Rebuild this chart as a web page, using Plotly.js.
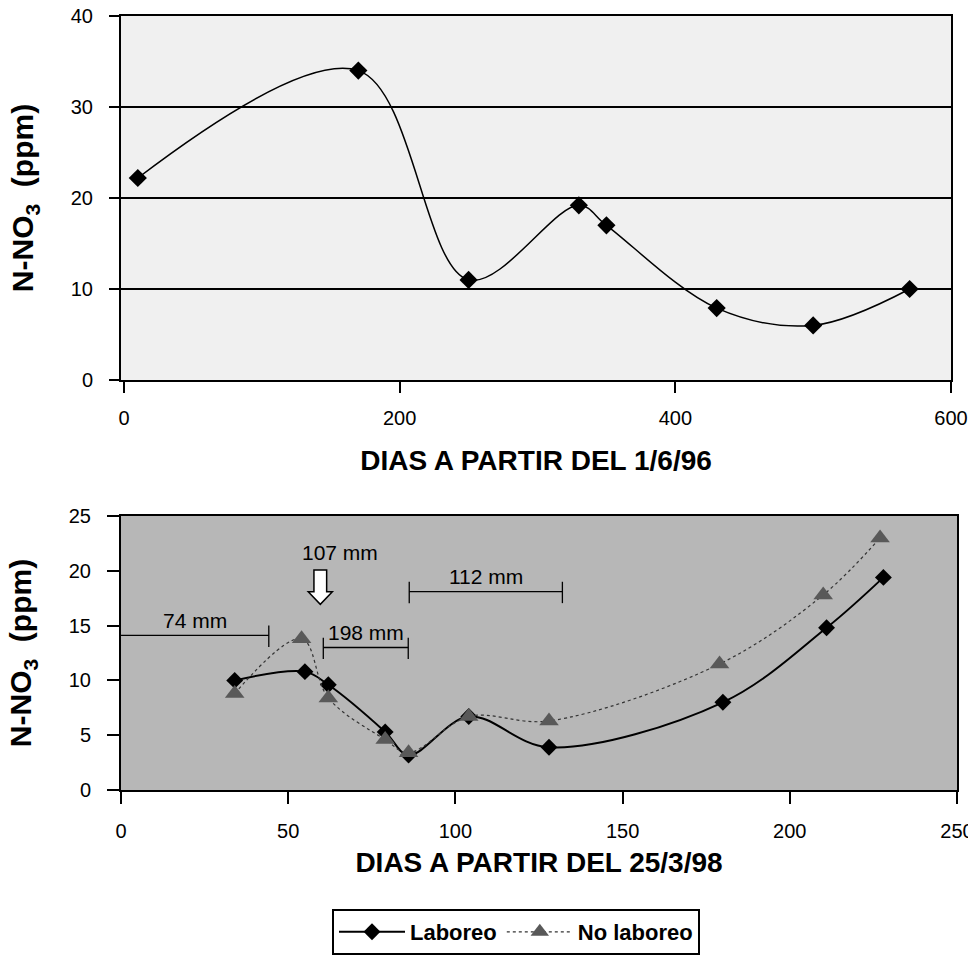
<!DOCTYPE html>
<html>
<head>
<meta charset="utf-8">
<script src="https://cdn.plot.ly/plotly-3.0.1.min.js"></script>
<style>html,body{margin:0;padding:0;background:#fff;}#chart{width:968px;height:956px;}</style>
</head>
<body>
<div id="chart"></div>
<script>
// ---- Data ----
// Upper panel: days since 1/6/96
const topDays = [10, 170, 250, 330, 350, 430, 500, 570];
const topN = [22.2, 34.0, 11.0, 19.2, 17.0, 7.9, 6.0, 10.0];

// Lower panel: days since 25/3/98
const labDays = [34, 55, 62, 79, 86, 104, 128, 180, 211, 228];
const labN = [10.0, 10.8, 9.6, 5.3, 3.2, 6.7, 3.9, 8.0, 14.8, 19.4];
const noLabDays = [34, 54, 62, 79, 86, 104, 128, 179, 210, 227];
const noLabN = [8.8, 13.8, 8.4, 4.6, 3.4, 6.7, 6.3, 11.5, 17.8, 23.0];

const seriesNames = ["Laboreo", "No laboreo"];

// Rainfall periods (days) and labels
const rainLabels = ["74 mm", "198 mm", "112 mm"];
const rainStart = [0, 60.5, 86.2];
const rainEnd = [44.2, 85.9, 132];
const pulseLabel = "107 mm";
const pulseDay = 59.6;

// Tick labels
const topXTicks = [0, 200, 400, 600];
const botXTicks = [0, 50, 100, 150, 200, 250];

const FONT = "Liberation Sans, Arial, Helvetica, sans-serif";

const traces = [
  {
    x: topDays, y: topN, xaxis: "x", yaxis: "y",
    mode: "lines+markers", showlegend: false,
    line: {color: "#000", width: 1.5, shape: "spline", smoothing: 1},
    marker: {symbol: "diamond", size: 14, color: "#000"}
  },
  {
    name: seriesNames[0], x: labDays, y: labN, xaxis: "x2", yaxis: "y2",
    mode: "lines+markers",
    line: {color: "#000", width: 2, shape: "spline", smoothing: 1},
    marker: {symbol: "diamond", size: 13, color: "#000"}
  },
  {
    name: seriesNames[1], x: noLabDays, y: noLabN, xaxis: "x2", yaxis: "y2",
    mode: "lines+markers",
    line: {color: "#333", width: 1.2, dash: "dot", shape: "spline", smoothing: 1},
    marker: {symbol: "triangle-up", size: 17, color: "#595959"}
  }
];

// Layout helpers (positions only)
const rainLevels = [14.1, 13.0, 18.1];
const shapes = [
  {type: "rect", xref: "x domain", yref: "y domain", x0: 0, x1: 1, y0: 0, y1: 1,
   fillcolor: "#f0f0f0", line: {width: 0}, layer: "below"},
  {type: "rect", xref: "x2 domain", yref: "y2 domain", x0: 0, x1: 1, y0: 0, y1: 1,
   fillcolor: "#b7b7b7", line: {width: 0}, layer: "below"}
];
const annotations = [];
rainLabels.forEach((lab, i) => {
  const yv = rainLevels[i];
  shapes.push({type: "line", xref: "x2", yref: "y2", x0: rainStart[i], x1: rainEnd[i], y0: yv, y1: yv,
    line: {color: "#000", width: 1.3}});
  shapes.push({type: "line", xref: "x2", yref: "y2", x0: rainEnd[i], x1: rainEnd[i], y0: yv - 1.05, y1: yv + 0.9,
    line: {color: "#000", width: 1.3}});
  if (rainStart[i] > 0) {
    shapes.push({type: "line", xref: "x2", yref: "y2", x0: rainStart[i], x1: rainStart[i], y0: yv - 1.05, y1: yv + 0.9,
      line: {color: "#000", width: 1.3}});
  }
  annotations.push({xref: "x2", yref: "y2", x: (rainStart[i] + rainEnd[i]) / 2, y: yv + 0.15,
    yanchor: "bottom", text: lab, showarrow: false, font: {family: FONT, size: 21, color: "#000"}});
});
// hollow downward arrow for the 107 mm rain event
const a = pulseDay;
shapes.push({type: "path", xref: "x2", yref: "y2",
  path: `M${a-1.9},20.07 L${a+1.9},20.07 L${a+1.9},18.09 L${a+3.6},18.09 L${a},16.94 L${a-3.6},18.09 L${a-1.9},18.09 Z`,
  fillcolor: "#fff", line: {color: "#000", width: 1.5}});
annotations.push({xref: "x2", yref: "y2", x: pulseDay + 6, y: 20.4, yanchor: "bottom",
  text: pulseLabel, showarrow: false, font: {family: FONT, size: 21, color: "#000"}});

const tickFont = {family: FONT, size: 20, color: "#000"};
const titleFontX = {family: FONT, size: 28, color: "#000", weight: "bold"};
const titleFontY = {family: FONT, size: 30, color: "#000", weight: "bold"};

const commonAxis = {
  showline: true, mirror: true, linecolor: "#000", linewidth: 2,
  ticks: "outside", tickcolor: "#000", tickwidth: 2, tickfont: tickFont,
  zeroline: false, ticklabeloverflow: "allow"
};

const layout = {
  width: 968, height: 956,
  margin: {l: 0, r: 0, t: 0, b: 0},
  paper_bgcolor: "#fff", plot_bgcolor: "rgba(0,0,0,0)",
  font: {family: FONT, color: "#000"},
  xaxis: Object.assign({}, commonAxis, {
    domain: [121/968, 951/968], range: [-2.2, 600.01], anchor: "y",
    tickmode: "array", tickvals: topXTicks, ticklen: 11, showgrid: false,
    ticklabelstandoff: 8,
    title: {text: "DIAS A PARTIR DEL 1/6/96", font: titleFontX, standoff: 22}
  }),
  yaxis: Object.assign({}, commonAxis, {
    domain: [1 - 380/956, 1 - 16/956], range: [0, 40], dtick: 10, anchor: "x",
    ticklen: 10, showgrid: true, gridcolor: "#000", gridwidth: 2,
    ticklabelstandoff: 12,
    title: {text: "N-NO<sub>3</sub>&nbsp; (ppm)", font: titleFontY, standoff: 28}
  }),
  xaxis2: Object.assign({}, commonAxis, {
    domain: [121/968, 957/968], range: [0, 250.01], anchor: "y2",
    tickmode: "array", tickvals: botXTicks, ticklen: 12, showgrid: false,
    ticklabelstandoff: 10,
    title: {text: "DIAS A PARTIR DEL 25/3/98", font: titleFontX, standoff: 11}
  }),
  yaxis2: Object.assign({}, commonAxis, {
    domain: [1 - 790/956, 1 - 516/956], range: [0, 25], dtick: 5, anchor: "x2",
    ticklen: 12, showgrid: false,
    ticklabelstandoff: 12,
    title: {text: "N-NO<sub>3</sub>&nbsp; (ppm)", font: titleFontY, standoff: 28}
  }),
  showlegend: true,
  legend: {
    orientation: "h", x: 332/968, xanchor: "left", y: 1 - 909/956, yanchor: "top",
    bgcolor: "#fff", bordercolor: "#000", borderwidth: 2,
    font: {family: FONT, size: 22, color: "#000", weight: "bold"},
    itemwidth: 66, traceorder: "normal"
  },
  shapes: shapes,
  annotations: annotations
};

Plotly.newPlot("chart", traces, layout, {displayModeBar: false, staticPlot: true});
</script>
</body>
</html>
